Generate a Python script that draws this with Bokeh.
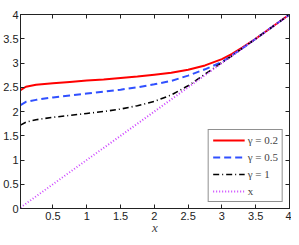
from bokeh.plotting import figure
from bokeh.models import LinearAxis, Legend, LegendItem, FixedTicker, Range1d
from bokeh.embed import file_html
from bokeh.resources import INLINE

# data
x_pts = [0.02, 0.1, 0.25, 0.5, 0.75, 1.0, 1.25, 1.5, 1.75, 2.0, 2.25, 2.5, 2.75, 3.0, 3.15, 3.3, 3.5, 4.0]
y_g02 = [2.44, 2.51, 2.55, 2.58, 2.61, 2.64, 2.66, 2.69, 2.72, 2.76, 2.80, 2.86, 2.95, 3.08, 3.19, 3.32, 3.5, 4.0]
y_g05 = [2.13, 2.20, 2.24, 2.29, 2.33, 2.37, 2.41, 2.45, 2.50, 2.56, 2.63, 2.74, 2.87, 3.02, 3.16, 3.3, 3.5, 4.0]
y_g1 = [1.72, 1.78, 1.83, 1.88, 1.92, 1.96, 2.00, 2.05, 2.12, 2.21, 2.34, 2.53, 2.77, 3.01, 3.15, 3.3, 3.5, 4.0]
x_line = [0.02, 4.0]
y_line = [0.02, 4.0]

x_ticks = [0.5, 1, 1.5, 2, 2.5, 3, 3.5, 4]
x_tick_labels = ["0.5", "1", "1.5", "2", "2.5", "3", "3.5", "4"]
y_ticks = [0, 0.5, 1, 1.5, 2, 2.5, 3, 3.5, 4]
y_tick_labels = ["0", "0.5", "1", "1.5", "2", "2.5", "3", "3.5", "4"]
labels = ["\u03b3 = 0.2", "\u03b3 = 0.5", "\u03b3 = 1", "x"]

p = figure(width=291, height=237, output_backend="svg", toolbar_location=None,
           x_range=Range1d(0.02, 4), y_range=Range1d(0, 4),
           min_border_left=20, min_border_right=2, min_border_top=14, min_border_bottom=24)
p.background_fill_color = "white"
p.border_fill_color = "white"
p.outline_line_color = "#222222"
p.xgrid.visible = False
p.ygrid.visible = False

r1 = p.line(x_pts, y_g02, line_color="#ff0000", line_width=2)
r2 = p.line(x_pts, y_g05, line_color="#3050ff", line_width=2, line_dash="7 4")
r3 = p.line(x_pts, y_g1, line_color="#000000", line_width=1.6, line_dash="6 3 1 3")
r4 = p.line(x_line, y_line, line_color="#cc44ff", line_width=2, line_dash="1 2")

def style(ax, ticks, tlabels, show):
    ax.ticker = FixedTicker(ticks=ticks)
    ax.major_label_overrides = {t: l for t, l in zip(ticks, tlabels)}
    ax.major_tick_in = 4
    ax.major_tick_out = 0
    ax.minor_tick_in = 0
    ax.minor_tick_out = 0
    ax.axis_line_color = "#222222"
    ax.major_tick_line_color = "#222222"
    ax.major_label_text_font = "Liberation Sans"
    ax.major_label_text_font_size = "11px" if show else "0px"
    ax.major_label_text_color = "#222222"
    ax.major_label_standoff = 2 if show else 0

style(p.xaxis[0], x_ticks, x_tick_labels, True)
style(p.yaxis[0], y_ticks, y_tick_labels, True)
p.xaxis[0].major_label_standoff = 3
p.xaxis[0].axis_label = "x"
p.xaxis[0].axis_label_text_font = "Liberation Serif"
p.xaxis[0].axis_label_text_font_style = "italic"
p.xaxis[0].axis_label_text_font_size = "13px"
p.xaxis[0].axis_label_standoff = -3

top = LinearAxis()
style(top, x_ticks, ["" for _ in x_ticks], False)
p.add_layout(top, "above")
right = LinearAxis()
style(right, y_ticks, ["" for _ in y_ticks], False)
p.add_layout(right, "right")

legend = Legend(items=[LegendItem(label=labels[0], renderers=[r1]),
                       LegendItem(label=labels[1], renderers=[r2]),
                       LegendItem(label=labels[2], renderers=[r3]),
                       LegendItem(label=labels[3], renderers=[r4])],
                location="bottom_right")
legend.label_text_font = "Liberation Serif"
legend.label_text_font_size = "11px"
legend.label_height = 12
legend.glyph_height = 12
legend.glyph_width = 32
legend.spacing = 5
legend.padding = 4
legend.margin = 6
legend.label_standoff = 3
legend.border_line_color = "#222222"
legend.border_line_width = 1
legend.background_fill_alpha = 1
p.add_layout(legend)

open("out.html", "w").write(file_html(p, INLINE))
